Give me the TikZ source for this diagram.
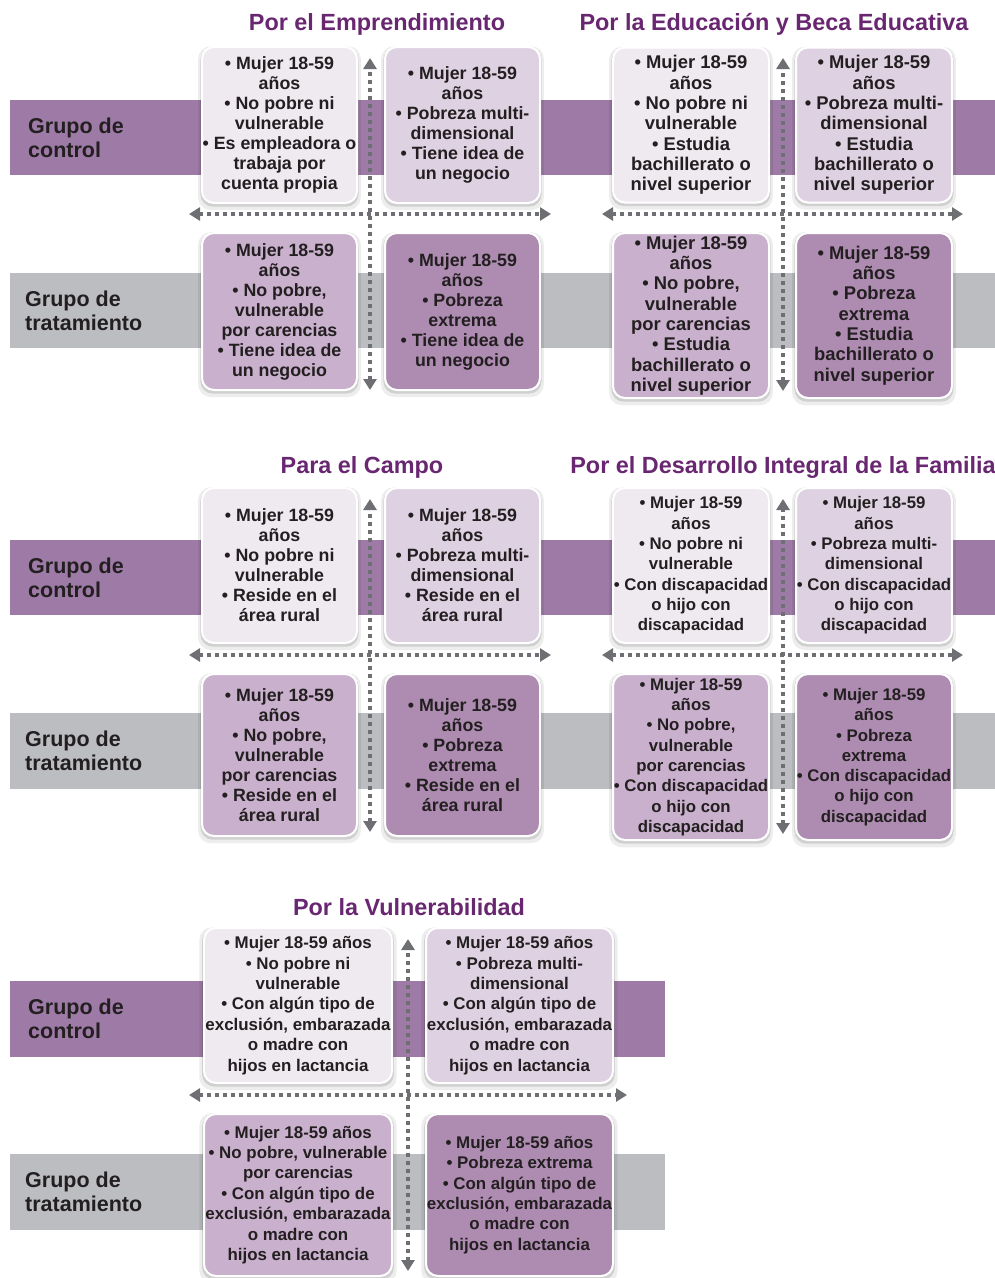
\documentclass[tikz,border=0pt]{standalone}
\usepackage{fontspec}
\setmainfont{Liberation Sans}
\usepackage{tikz}
\usetikzlibrary{arrows.meta,shadows}
\definecolor{grpPurple}{RGB}{158,122,166}
\definecolor{grpGray}{RGB}{188,189,192}
\definecolor{cellPale}{RGB}{239,233,240}
\definecolor{cellSoft}{RGB}{222,210,226}
\definecolor{cellMid}{RGB}{201,176,205}
\definecolor{cellDeep}{RGB}{174,140,178}
\definecolor{hdPurple}{RGB}{105,38,113}
\definecolor{inkDark}{RGB}{35,31,32}
\definecolor{axisGray}{RGB}{110,111,114}
\tikzset{
    base/.style={font=\bfseries, align=center, text=inkDark},
    header/.style={font=\fontsize{23.4}{27}\selectfont\bfseries, text=hdPurple, inner sep=0pt},
    grouplabel/.style={base, align=left, anchor=west, inner sep=0pt,
                       font=\fontsize{21.5}{24}\selectfont\bfseries},
    dims/.style 2 args={minimum width=#1, minimum height=#2},
    cell/.style={base, rectangle, rounded corners=12pt, draw=white, line width=2pt, inner sep=0pt,
                 general shadow={fill=black, opacity=0.07, shadow yshift=-3pt, shadow scale=1.05},
                 general shadow={fill=black, opacity=0.12, shadow yshift=-2pt, shadow scale=1.02}},
    cellNP/.style={cell, fill=cellPale},
    cellPM/.style={cell, fill=cellSoft},
    cellVC/.style={cell, fill=cellMid},
    cellPE/.style={cell, fill=cellDeep},
    fsA/.style={font=\fontsize{17.8}{20}\selectfont\bfseries},
    fsB/.style={font=\fontsize{18.4}{20.3}\selectfont\bfseries},
    fsC/.style={font=\fontsize{16.8}{20.3}\selectfont\bfseries},
    fsD/.style={font=\fontsize{16.9}{20.4}\selectfont\bfseries},
    axis/.style={{Triangle[length=11pt,width=13pt]}-{Triangle[length=11pt,width=13pt]},
                 line width=3.5pt, dash pattern=on 4pt off 4pt, draw=axisGray}
}
\begin{document}
\begin{tikzpicture}[x=1pt,y=-1pt]
  \useasboundingbox[fill=white] (0,0) rectangle (995,1278);

  % Group bands
  \fill[grpPurple] (10,100) rectangle (995,175);
  \fill[grpGray] (10,273) rectangle (995,348);
  \fill[grpPurple] (10,540) rectangle (995,615);
  \fill[grpGray] (10,713) rectangle (995,789);
  \fill[grpPurple] (10,981) rectangle (665,1057);
  \fill[grpGray] (10,1154) rectangle (665,1230);

  % Group labels
  \node[grouplabel] (ctl-1) at (28,137.5) {Grupo de\\control};
  \node[grouplabel] (trt-1) at (25,310.5) {Grupo de\\tratamiento};
  \node[grouplabel] (ctl-2) at (28,577.5) {Grupo de\\control};
  \node[grouplabel] (trt-2) at (25,751) {Grupo de\\tratamiento};
  \node[grouplabel] (ctl-3) at (28,1019) {Grupo de\\control};
  \node[grouplabel] (trt-3) at (25,1192) {Grupo de\\tratamiento};

  % Program titles
  \node[header] (emp-title) at (377,24) {Por el Emprendimiento};
  \node[header] (edu-title) at (774,24) {Por la Educación y Beca Educativa};
  \node[header] (cam-title) at (362,467) {Para el Campo};
  \node[header] (fam-title) at (783,467) {Por el Desarrollo Integral de la Familia};
  \node[header] (vul-title) at (409,907) {Por la Vulnerabilidad};

  % Emprendimiento
  \node[cellNP, fsA, dims={155pt}{156pt}] (emp-np) at (279.5,125)
    {• Mujer 18-59\\años\\• No pobre ni\\vulnerable\\• Es empleadora o\\trabaja por\\cuenta propia};
  \node[cellPM, fsA, dims={155pt}{156pt}] (emp-pm) at (462.5,125)
    {• Mujer 18-59\\años\\• Pobreza multi-\\dimensional\\• Tiene idea de\\un negocio};
  \node[cellVC, fsA, dims={155pt}{157pt}] (emp-vc) at (279.5,311.5)
    {• Mujer 18-59\\años\\• No pobre,\\vulnerable\\por carencias\\• Tiene idea de\\un negocio};
  \node[cellPE, fsA, dims={155pt}{157pt}] (emp-pe) at (462.5,311.5)
    {• Mujer 18-59\\años\\• Pobreza\\extrema\\• Tiene idea de\\un negocio};

  % Educacion
  \node[cellNP, fsB, dims={156pt}{155pt}] (edu-np) at (691,125)
    {• Mujer 18-59\\años\\• No pobre ni\\vulnerable\\• Estudia\\bachillerato o\\nivel superior};
  \node[cellPM, fsB, dims={156pt}{155pt}] (edu-pm) at (874,125)
    {• Mujer 18-59\\años\\• Pobreza multi-\\dimensional\\• Estudia\\bachillerato o\\nivel superior};
  \node[cellVC, fsB, dims={156pt}{165pt}] (edu-vc) at (691,315.5)
    {• Mujer 18-59\\años\\• No pobre,\\vulnerable\\por carencias\\• Estudia\\bachillerato o\\nivel superior};
  \node[cellPE, fsB, dims={156pt}{165pt}] (edu-pe) at (874,315.5)
    {• Mujer 18-59\\años\\• Pobreza\\extrema\\• Estudia\\bachillerato o\\nivel superior};

  % Campo
  \node[cellNP, fsA, dims={155pt}{155pt}] (cam-np) at (279.5,565.5)
    {• Mujer 18-59\\años\\• No pobre ni\\vulnerable\\• Reside en el\\área rural};
  \node[cellPM, fsA, dims={155pt}{155pt}] (cam-pm) at (462.5,565.5)
    {• Mujer 18-59\\años\\• Pobreza multi-\\dimensional\\• Reside en el\\área rural};
  \node[cellVC, fsA, dims={155pt}{162pt}] (cam-vc) at (279.5,755)
    {• Mujer 18-59\\años\\• No pobre,\\vulnerable\\por carencias\\• Reside en el\\área rural};
  \node[cellPE, fsA, dims={155pt}{162pt}] (cam-pe) at (462.5,755)
    {• Mujer 18-59\\años\\• Pobreza\\extrema\\• Reside en el\\área rural};

  % Desarrollo Integral de la Familia
  \node[cellNP, fsC, dims={156pt}{155pt}] (fam-np) at (691,565.5)
    {• Mujer 18-59\\años\\• No pobre ni\\vulnerable\\• Con discapacidad\\o hijo con\\discapacidad};
  \node[cellPM, fsC, dims={156pt}{155pt}] (fam-pm) at (874,565.5)
    {• Mujer 18-59\\años\\• Pobreza multi-\\dimensional\\• Con discapacidad\\o hijo con\\discapacidad};
  \node[cellVC, fsC, dims={156pt}{166pt}] (fam-vc) at (691,757)
    {• Mujer 18-59\\años\\• No pobre,\\vulnerable\\por carencias\\• Con discapacidad\\o hijo con\\discapacidad};
  \node[cellPE, fsC, dims={156pt}{166pt}] (fam-pe) at (874,757)
    {• Mujer 18-59\\años\\• Pobreza\\extrema\\• Con discapacidad\\o hijo con\\discapacidad};

  % Vulnerabilidad
  \node[cellNP, fsD, dims={188pt}{155pt}] (vul-np) at (298,1005.5)
    {• Mujer 18-59 años\\• No pobre ni\\vulnerable\\• Con algún tipo de\\exclusión, embarazada\\o madre con\\hijos en lactancia};
  \node[cellPM, fsD, dims={187pt}{155pt}] (vul-pm) at (519.5,1005.5)
    {• Mujer 18-59 años\\• Pobreza multi-\\dimensional\\• Con algún tipo de\\exclusión, embarazada\\o madre con\\hijos en lactancia};
  \node[cellVC, fsD, dims={188pt}{162pt}] (vul-vc) at (298,1195)
    {• Mujer 18-59 años\\• No pobre, vulnerable\\por carencias\\• Con algún tipo de\\exclusión, embarazada\\o madre con\\hijos en lactancia};
  \node[cellPE, fsD, dims={187pt}{162pt}] (vul-pe) at (519.5,1195)
    {• Mujer 18-59 años\\• Pobreza extrema\\• Con algún tipo de\\exclusión, embarazada\\o madre con\\hijos en lactancia};

  % Axis ends
  \coordinate (emp-n) at (370,58);   \coordinate (emp-s) at (370,390);
  \coordinate (emp-w) at (189,214);  \coordinate (emp-e) at (551,214);
  \coordinate (edu-n) at (783,58);   \coordinate (edu-s) at (783,391);
  \coordinate (edu-w) at (602,214);  \coordinate (edu-e) at (963,214);
  \coordinate (cam-n) at (370,499);  \coordinate (cam-s) at (370,832);
  \coordinate (cam-w) at (189,655);  \coordinate (cam-e) at (551,655);
  \coordinate (fam-n) at (783,499);  \coordinate (fam-s) at (783,834);
  \coordinate (fam-w) at (602,655);  \coordinate (fam-e) at (963,655);
  \coordinate (vul-n) at (408,939);  \coordinate (vul-s) at (408,1271);
  \coordinate (vul-w) at (189,1095); \coordinate (vul-e) at (627,1095);

  % Axes
  \foreach \p in {emp,edu,cam,fam,vul} {
    \draw[axis] (\p-s) -- (\p-n);
    \draw[axis] (\p-w) -- (\p-e);
  }
\end{tikzpicture}
\end{document}
